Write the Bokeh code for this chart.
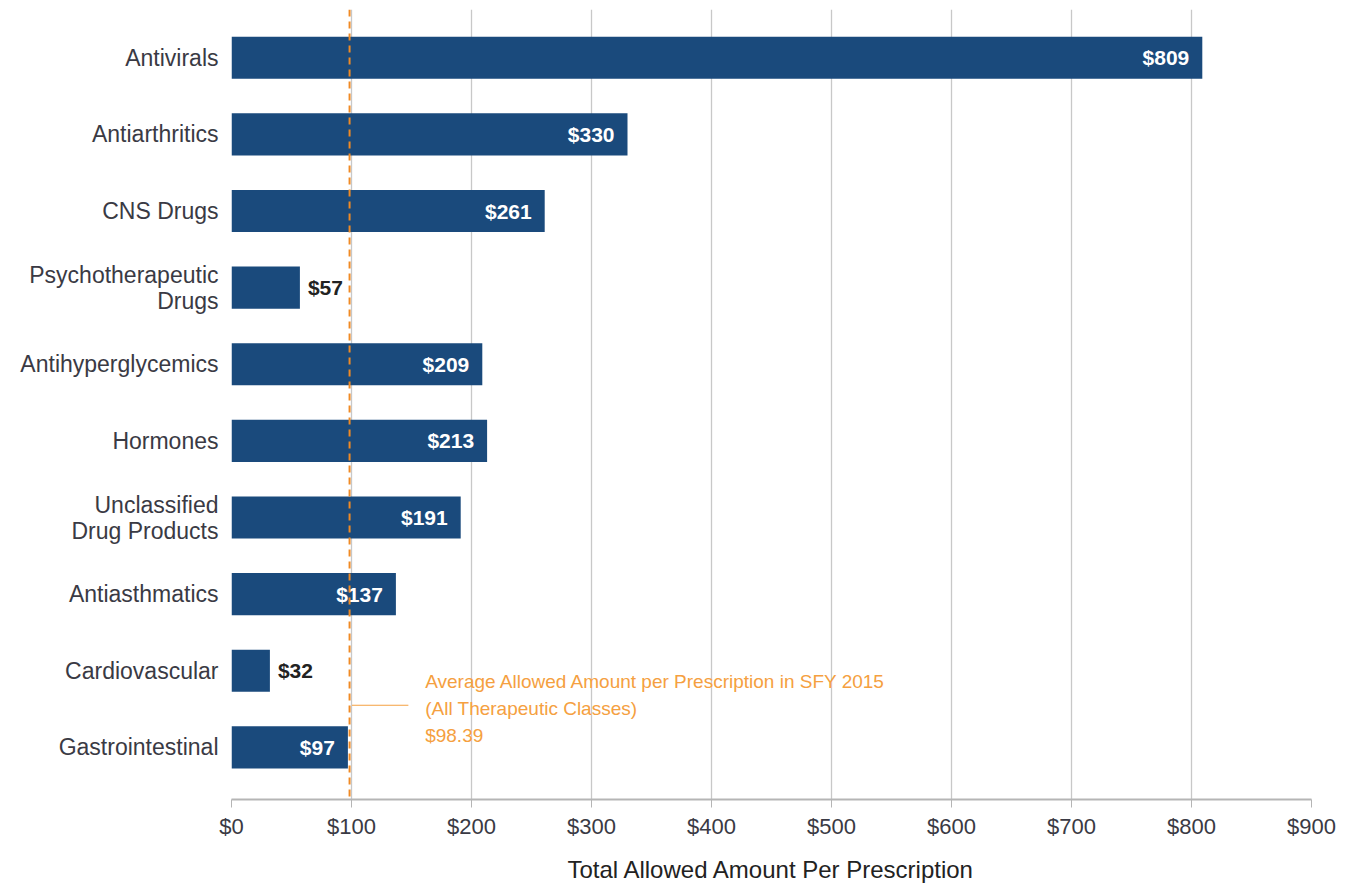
from bokeh.plotting import figure
from bokeh.models import Range1d, ColumnDataSource, Span, FixedTicker, Label
from bokeh.core.properties import value
from bokeh.embed import file_html
from bokeh.resources import INLINE

categories = ["Antivirals", "Antiarthritics", "CNS Drugs", "Psychotherapeutic\nDrugs",
              "Antihyperglycemics", "Hormones", "Unclassified\nDrug Products",
              "Antiasthmatics", "Cardiovascular", "Gastrointestinal"]
values = [809, 330, 261, 57, 209, 213, 191, 137, 32, 97]
x_ticks = [0, 100, 200, 300, 400, 500, 600, 700, 800, 900]
x_tick_labels = ["$0", "$100", "$200", "$300", "$400", "$500", "$600", "$700", "$800", "$900"]
average_value = 98.39
annotation_lines = ["Average Allowed Amount per Prescription in SFY 2015",
                    "(All Therapeutic Classes)", "$98.39"]

n = len(categories)
ypos = [n - 1 - i for i in range(n)]

FONT = "Liberation Sans"
NARROW = "Liberation Sans Narrow, Liberation Sans"
TXT = "#3a3a44"

p = figure(width=1357, height=886, output_backend="svg", toolbar_location=None,
           x_range=Range1d(0, 900), y_range=Range1d(-0.68, n - 1 + 0.63),
           min_border_left=231, min_border_right=46, min_border_top=9,
           min_border_bottom=87)
p.outline_line_color = None

bar_src = ColumnDataSource(dict(y=ypos, v=values))
p.hbar(y="y", right="v", left=0, height=0.55, source=bar_src,
       fill_color="#1a4a7c", line_color=None)

# value labels
inside = [v >= 70 for v in values]
lab_src_in = ColumnDataSource(dict(
    x=[v for v, i in zip(values, inside) if i],
    y=[y for y, i in zip(ypos, inside) if i],
    t=["$%d" % v for v, i in zip(values, inside) if i]))
lab_src_out = ColumnDataSource(dict(
    x=[v for v, i in zip(values, inside) if not i],
    y=[y for y, i in zip(ypos, inside) if not i],
    t=["$%d" % v for v, i in zip(values, inside) if not i]))
p.text(x="x", y="y", text="t", source=lab_src_in, x_offset=-13,
       text_align="right", text_baseline="middle", text_color="white",
       text_font=value(NARROW), text_font_style="bold", text_font_size="21px")
p.text(x="x", y="y", text="t", source=lab_src_out, x_offset=8,
       text_align="left", text_baseline="middle", text_color="#222222",
       text_font=value(NARROW), text_font_style="bold", text_font_size="21px")

# average line
p.add_layout(Span(location=average_value, dimension="height", line_color="#f08a24",
                  line_dash="7 5", line_width=2))

# annotation leader + text
ann_y = ypos[-1] + 0.55
p.segment(x0=[average_value + 2], x1=[average_value + 49], y0=[ann_y], y1=[ann_y],
          line_color="#f5a040", line_width=1.2)
for k, line in enumerate(annotation_lines):
    p.add_layout(Label(x=average_value + 63, y=ann_y, y_units="data",
                       y_offset=24 - 27 * k, text=line, text_baseline="middle",
                       text_color="#f5a040", text_font=NARROW,
                       text_font_size="19px"))

# axes
p.xaxis.ticker = FixedTicker(ticks=x_ticks)
p.xaxis.major_label_overrides = {t: l for t, l in zip(x_ticks, x_tick_labels)}
p.xaxis.major_label_text_font = FONT
p.xaxis.major_label_text_font_size = "22px"
p.xaxis.major_label_text_color = TXT
p.xaxis.major_label_standoff = 6
p.xaxis.axis_line_color = "#b5b5b5"
p.xaxis.axis_line_width = 2
p.xaxis.major_tick_line_color = "#b5b5b5"
p.xaxis.major_tick_out = 8
p.xaxis.major_tick_in = 0
p.xaxis.minor_tick_line_color = None
p.xaxis.axis_label = "Total Allowed Amount Per Prescription"
p.xaxis.axis_label_text_font = FONT
p.xaxis.axis_label_text_font_size = "24px"
p.xaxis.axis_label_text_font_style = "normal"
p.xaxis.axis_label_text_color = "#222222"
p.xaxis.axis_label_standoff = 14

p.yaxis.ticker = FixedTicker(ticks=ypos)
p.yaxis.major_label_overrides = {y: c for y, c in zip(ypos, categories)}
p.yaxis.major_label_text_font = FONT
p.yaxis.major_label_text_font_size = "23px"
p.yaxis.major_label_text_color = TXT
p.yaxis.major_label_text_line_height = 1.0
p.yaxis.major_label_standoff = 7
p.yaxis.axis_line_color = None
p.yaxis.major_tick_line_color = None
p.yaxis.minor_tick_line_color = None

p.xgrid.grid_line_color = "#c8c8c8"
p.xgrid.grid_line_width = 1.3
p.ygrid.grid_line_color = None

open("out.html", "w").write(file_html(p, INLINE))
